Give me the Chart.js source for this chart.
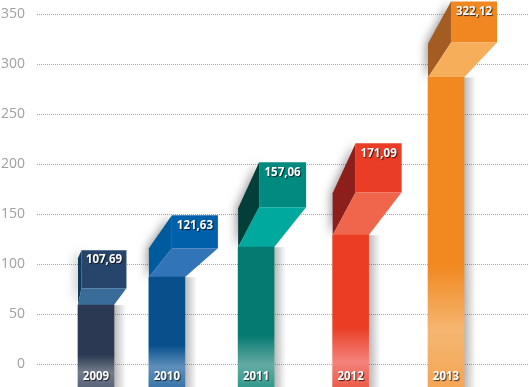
<!DOCTYPE html>
<html>
<head>
<meta charset="utf-8">
<title>Chart</title>
<script src="https://cdn.jsdelivr.net/npm/chart.js@4/dist/chart.umd.min.js"></script>
<style>
  html, body { margin: 0; padding: 0; background: #fff; overflow: hidden; }
  canvas { display: block; }
</style>
</head>
<body>
<canvas id="myChart" width="528" height="387"></canvas>
<script>
// Chart data
const years = ['2009', '2010', '2011', '2012', '2013'];
const valueLabels = ['107,69', '121,63', '157,06', '171,09', '322,12'];
const tickValues = [0, 50, 100, 150, 200, 250, 300, 350];

// Heights on the y axis
const frontTop = [59, 87, 117, 129, 287];
const capTop = [76, 116, 157, 172, 322];
const sideTop = [106, 116, 156, 171, 321];
const backTop = [114, 149, 202, 221, 363];
const fadeStart = [9, 19, 29, 37, 99];
const fadePeak = [-8, -3, -1, 2, 34];

// Places on the x axis, in bar slots
const slots = [0, 0.81, 1.83, 2.91, 4];
const depth = [0.04, 0.263, 0.24, 0.263, 0.263];
const backWidth = [0.514, 0.526, 0.537, 0.526, 0.526];

// Colours
const frontColors = ['#2b3a52', '#07508c', '#057a70', '#ea3d24', '#f18820'];
const fadeColors = ['#737c8b', '#5f90ba', '#64aaa3', '#f3827a', '#f5b671'];
const endColors = ['#59647a', '#3b76aa', '#329a8e', '#ec5c4a', '#f4a655'];
const backColors = ['#27456b', '#0060aa', '#008a80', '#ea3d26', '#f18721'];
const capColors = ['#3a6c9a', '#3174b8', '#00a99d', '#ef664c', '#f6ae5a'];
const sideColors = ['#0f3a5c', '#005a9e', '#033f3a', '#8c1f1c', '#a35c22'];

const axisFloor = -23;
const barWidth = 36;

function polygon(ctx, points, color) {
    ctx.fillStyle = color;
    ctx.beginPath();
    points.forEach((p, i) => i ? ctx.lineTo(p[0], p[1]) : ctx.moveTo(p[0], p[1]));
    ctx.closePath();
    ctx.fill();
}

// Left and right edge of the back panel, measured from the bar's left edge
function backEdges(x, i) {
    const unit = x.getPixelForValue(1) - x.getPixelForValue(0);
    const left = x.getPixelForValue(slots[i]) - barWidth / 2 + depth[i] * unit;
    return [left, left + backWidth[i] * unit];
}

// Draws the slanted top of each column behind the front bars
const columnTops = {
    id: 'columnTops',
    beforeDatasetsDraw(chart) {
        const { ctx, scales: { x, y } } = chart;
        years.forEach((year, i) => {
            const left = x.getPixelForValue(slots[i]) - barWidth / 2;
            const right = left + barWidth;
            const [backLeft, backRight] = backEdges(x, i);
            const yFront = y.getPixelForValue(frontTop[i]);
            const yCap = y.getPixelForValue(capTop[i]);
            const ySide = y.getPixelForValue(sideTop[i]);
            const yBack = y.getPixelForValue(backTop[i]);

            // soft shadow right of the bar
            const shade = ctx.createLinearGradient(right, 0, right + 12, 0);
            shade.addColorStop(0, 'rgba(0,0,0,0.28)');
            shade.addColorStop(1, 'rgba(0,0,0,0)');
            ctx.fillStyle = shade;
            ctx.fillRect(right, yFront, 12, chart.height - yFront);

            ctx.save();
            ctx.shadowColor = 'rgba(0,0,0,0.4)';
            ctx.shadowBlur = 10;
            ctx.shadowOffsetX = -2;
            polygon(ctx, [[left, ySide], [backLeft, yBack], [backLeft, yCap], [left, yFront]], sideColors[i]);
            ctx.restore();

            polygon(ctx, [[backLeft, yBack], [backRight, yBack], [backRight, yCap], [backLeft, yCap]], backColors[i]);
            polygon(ctx, [[backLeft, yCap], [backRight, yCap], [right, yFront], [left, yFront]], capColors[i]);
        });
    },
    afterDatasetsDraw(chart) {
        const { ctx, scales: { x, y } } = chart;
        ctx.save();
        ctx.fillStyle = '#fff';
        ctx.font = 'bold 11.5px "Open Sans"';
        ctx.textAlign = 'center';
        ctx.textBaseline = 'middle';
        ctx.shadowColor = 'rgba(0,0,0,0.7)';
        ctx.shadowBlur = 1;
        ctx.shadowOffsetX = 1;
        ctx.shadowOffsetY = 1;
        years.forEach((year, i) => {
            const [backLeft, backRight] = backEdges(x, i);
            ctx.fillText(valueLabels[i], (backLeft + backRight) / 2, y.getPixelForValue(backTop[i]) + 10);
            ctx.fillText(year, x.getPixelForValue(slots[i]), y.getPixelForValue(-12.5));
        });
        ctx.restore();
    }
};

function frontGradient(context) {
    const i = context.dataIndex;
    const { ctx, chartArea, scales: { y } } = context.chart;
    if (!chartArea) return frontColors[i]; // not laid out yet
    const top = y.getPixelForValue(fadeStart[i]);
    const bottom = y.getPixelForValue(axisFloor);
    const peak = (y.getPixelForValue(fadePeak[i]) - top) / (bottom - top);
    const gradient = ctx.createLinearGradient(0, top, 0, bottom);
    gradient.addColorStop(0, frontColors[i]);
    gradient.addColorStop(peak, fadeColors[i]);
    gradient.addColorStop(1, endColors[i]);
    return gradient;
}

const chartCtx = document.getElementById('myChart').getContext('2d');

new Chart(chartCtx, {
    type: 'bar',
    data: {
        datasets: [{
            data: years.map((year, i) => ({ x: slots[i], y: [axisFloor, frontTop[i]] })),
            backgroundColor: frontGradient,
            borderWidth: 0,
            barThickness: barWidth
        }]
    },
    options: {
        responsive: false,
        animation: false,
        layout: { padding: 0 },
        plugins: {
            legend: { display: false },
            tooltip: { enabled: false }
        },
        scales: {
            x: {
                type: 'linear',
                display: false,
                offset: false,
                min: -0.674,
                max: 4.937
            },
            y: {
                min: axisFloor,
                max: 364.5,
                afterBuildTicks: (axis) => {
                    axis.ticks = tickValues.map(value => ({ value }));
                },
                afterFit: (axis) => {
                    // the plot has to run the full height of the canvas
                    axis.width = 37;
                    axis.paddingTop = 0;
                    axis.paddingBottom = 0;
                },
                grid: {
                    color: '#a8a8a8',
                    lineWidth: 1,
                    drawTicks: false
                },
                border: { display: false, dash: [1, 1] },
                ticks: {
                    color: '#a0a0a0',
                    padding: 12,
                    autoSkip: false,
                    font: { family: '"Open Sans"', size: 14 }
                }
            }
        }
    },
    plugins: [columnTops]
});
</script>
</body>
</html>
